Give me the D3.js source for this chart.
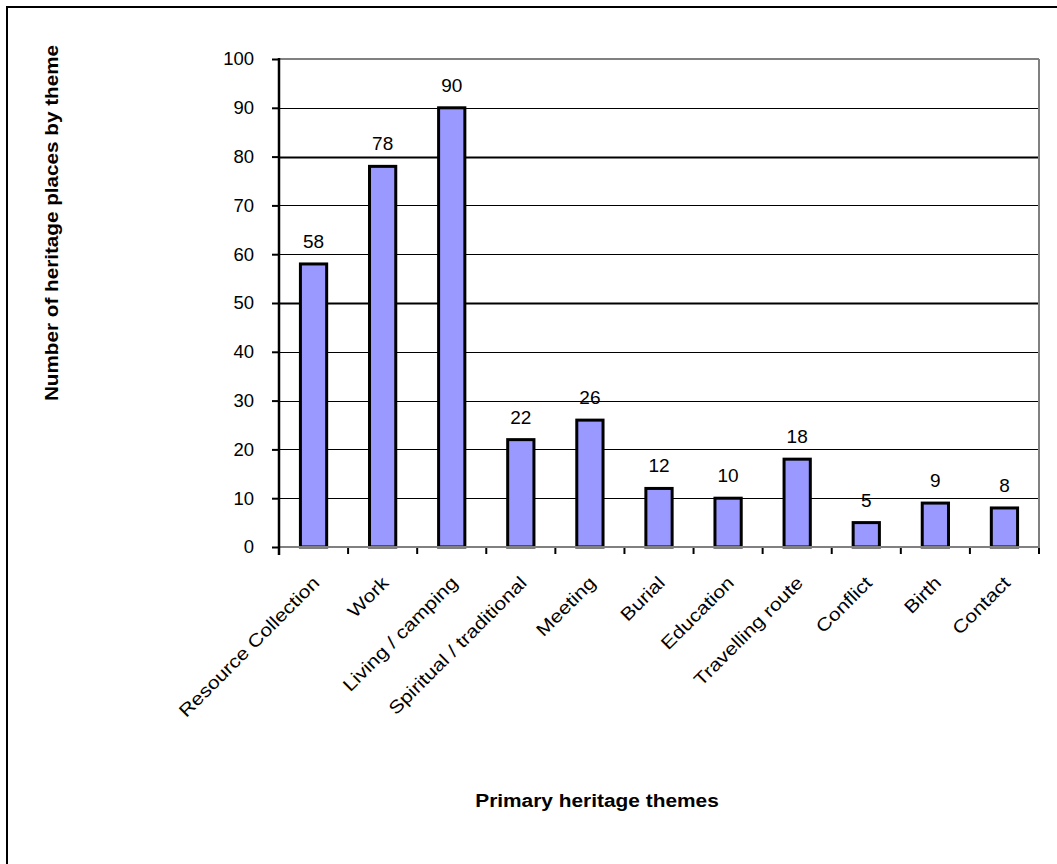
<!DOCTYPE html>
<html>
<head>
<meta charset="utf-8">
<script src="https://cdn.jsdelivr.net/npm/d3@7"></script>
<style>
html,body{margin:0;padding:0;background:#fff;overflow:hidden;}
svg{display:block;}
text{font-family:"Liberation Sans",Arial,sans-serif;fill:#000;}
</style>
</head>
<body>
<svg id="chart" width="1057" height="864"></svg>
<script>
const categories = ["Resource Collection","Work","Living / camping","Spiritual / traditional","Meeting","Burial","Education","Travelling route","Conflict","Birth","Contact"];
const values = [58,78,90,22,26,12,10,18,5,9,8];
const yTicks = [0,10,20,30,40,50,60,70,80,90,100];
const thickGrid = [50,80];
const yTitle = "Number of heritage places by theme";
const xTitle = "Primary heritage themes";

const svg = d3.select("#chart");
const L = 279, R = 1039, T = 59, B = 547;

// outer frame
svg.append("rect").attr("x",7).attr("y",7).attr("width",1200).attr("height",1000)
  .attr("fill","none").attr("stroke","#000").attr("stroke-width",2);

const x = d3.scaleBand().domain(categories).range([L,R]).padding(0);
const y = d3.scaleLinear().domain([0,100]).range([B,T]);

// gridlines
svg.append("g").selectAll("line").data(yTicks.filter(d=>d>0 && d<100)).join("line")
  .attr("x1",L).attr("x2",R).attr("y1",d=>Math.round(y(d))+0.5).attr("y2",d=>Math.round(y(d))+0.5)
  .attr("stroke","#000").attr("stroke-width",d=>thickGrid.includes(d)?2:1);

// plot border top & right (gray)
svg.append("line").attr("x1",L).attr("x2",R).attr("y1",y(100)).attr("y2",y(100)).attr("stroke","#808080").attr("stroke-width",2);
svg.append("line").attr("x1",R).attr("x2",R).attr("y1",T).attr("y2",B).attr("stroke","#808080").attr("stroke-width",2);

// bars
const bw = x.bandwidth()*0.38;
svg.append("g").selectAll("rect").data(values).join("rect")
  .attr("x",(d,i)=>x(categories[i])+x.bandwidth()/2-bw/2)
  .attr("y",d=>y(d))
  .attr("width",bw)
  .attr("height",d=>y(0)-y(d))
  .attr("fill","#9999FF").attr("stroke","#000").attr("stroke-width",3);

// value labels
svg.append("g").selectAll("text").data(values).join("text")
  .attr("x",(d,i)=>x(categories[i])+x.bandwidth()/2)
  .attr("y",d=>y(d)-16)
  .attr("text-anchor","middle").attr("font-size",19).text(d=>d);

// bottom axis ticks at category boundaries
const bounds = d3.range(categories.length+1).map(i=>L+i*x.step());
svg.append("g").selectAll("line").data(bounds).join("line")
  .attr("x1",d=>d).attr("x2",d=>d).attr("y1",B).attr("y2",B+7).attr("stroke","#000").attr("stroke-width",2);
svg.append("line").attr("x1",L).attr("x2",R+1).attr("y1",B).attr("y2",B).attr("stroke","#808080").attr("stroke-width",2);

// category labels
svg.append("g").selectAll("text").data(categories).join("text")
  .attr("transform",d=>`translate(${x(d)+x.bandwidth()/2+7},584) rotate(-45) scale(1.18,1)`)
  .attr("text-anchor","end").attr("font-size",18).text(d=>d);

// left axis
const yAxis = d3.axisLeft(y).tickValues(yTicks).tickSize(7).tickPadding(18);
const gy = svg.append("g").attr("transform",`translate(${L},0)`).call(yAxis);
gy.select(".domain").remove();
gy.selectAll(".tick line").attr("stroke","#000").attr("stroke-width",2);
gy.selectAll(".tick text").attr("font-size",18.5).attr("font-family","'Liberation Sans',Arial,sans-serif").attr("fill","#000");
svg.append("line").attr("x1",L).attr("x2",L).attr("y1",T-1).attr("y2",B+8).attr("stroke","#000").attr("stroke-width",2.5);

// titles
svg.append("text").attr("transform","translate(58,223) rotate(-90) scale(1.15,1)")
  .attr("text-anchor","middle").attr("font-size",18).attr("font-weight","bold").text(yTitle);
svg.append("text").attr("transform","translate(597,807) scale(1.16,1)")
  .attr("text-anchor","middle").attr("font-size",18).attr("font-weight","bold").text(xTitle);
</script>
</body>
</html>
